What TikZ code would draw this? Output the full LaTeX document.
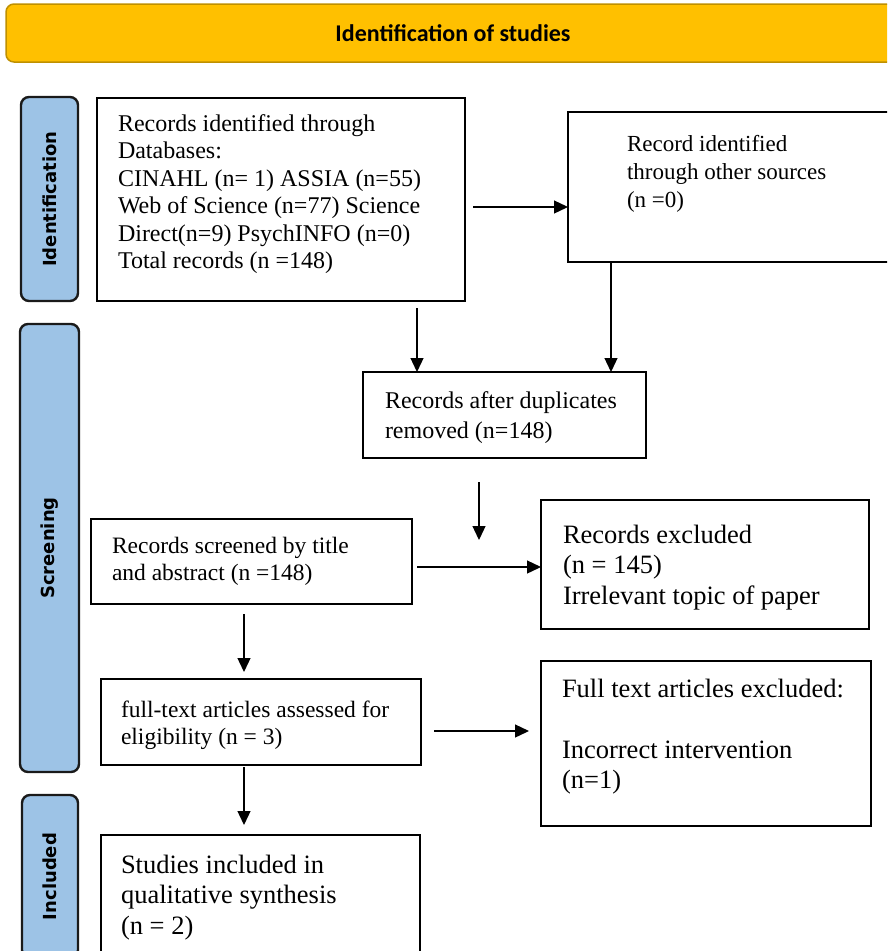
\documentclass[tikz,border=0pt]{standalone}
\usepackage{fontspec}
\setmainfont{Liberation Serif}
\newfontfamily\carlito{Carlito}
\newfontfamily\dejavu{DejaVu Sans}
\usetikzlibrary{arrows.meta,calc}
\definecolor{bannerfill}{HTML}{FFC000}
\definecolor{bannerline}{HTML}{BF9000}
\definecolor{sidefill}{HTML}{9DC3E6}
\definecolor{sideline}{HTML}{1A1A1A}
\begin{document}
\begin{tikzpicture}[x=1pt,y=-1pt,
  box/.style={draw=black,line width=2pt,fill=white,inner sep=0pt,outer sep=0pt},
  txt/.style={anchor=north west,inner sep=0pt,outer sep=0pt,align=left},
  side/.style={draw=sideline,line width=2.4pt,fill=sidefill,rounded corners=8pt,inner sep=0pt,outer sep=0pt},
  sidetxt/.style={rotate=90,inner sep=0pt,font=\dejavu\bfseries\fontsize{18}{21}\selectfont},
  arr/.style={line width=1.3pt,-{Triangle[length=14pt,width=13pt]}},
  fA/.style={font=\fontsize{24}{27.5}\selectfont},
  fB/.style={font=\fontsize{23}{28}\selectfont},
  fC/.style={font=\fontsize{24}{30}\selectfont},
  fD/.style={font=\fontsize{23.5}{27}\selectfont},
  fE/.style={font=\fontsize{26.5}{30.5}\selectfont}]
\clip (0,0) rectangle (887,951);
\fill[white] (0,0) rectangle (887,951);
% banner
\node[draw=bannerline,line width=1.5pt,fill=bannerfill,rounded corners=8pt,
  minimum width=894pt,minimum height=58pt,inner sep=0pt,
  font=\carlito\bfseries\fontsize{24}{28}\selectfont] (T) at (453,33) {Identification of studies};
% side bars
\node[side,minimum width=57pt,minimum height=204pt] (S1) at (49.5,199) {};
\node[sidetxt] (S1t) at (S1.center) {Identification};
\node[side,minimum width=59pt,minimum height=448pt] (S2) at (49.5,548) {};
\node[sidetxt] (S2t) at (S2.center) {Screening};
\node[side,minimum width=56pt,minimum height=163pt] (S3) at (50,876.5) {};
\node[sidetxt] (S3t) at (S3.center) {Included};
% boxes
\node[box,line width=2.4pt,minimum width=368pt,minimum height=203pt] (B1) at (281,199.5) {};
\node[box,minimum width=327pt,minimum height=150pt] (B2) at (731.5,187) {};
\node[box,minimum width=283pt,minimum height=86pt] (B3) at (504.5,415) {};
\node[box,minimum width=321pt,minimum height=85pt] (B4) at (251.5,561.5) {};
\node[box,minimum width=328pt,minimum height=129pt] (B5) at (705,564.5) {};
\node[box,minimum width=320pt,minimum height=86pt] (B6) at (261,722) {};
\node[box,minimum width=330pt,minimum height=165pt] (B7) at (706,743.5) {};
\node[box,minimum width=319pt,minimum height=130pt] (B8) at (260.5,900) {};
% texts
\node[txt,fA] (B1t) at ($(B1.north west)+(21,16.5)$) {Records identified through\\Databases:\\CINAHL (n= 1) ASSIA (n=55)\\Web of Science (n=77) Science\\Direct(n=9) PsychINFO (n=0)\\Total records (n =148)};
\node[txt,fB] (B2t) at ($(B2.north west)+(59,23)$) {Record identified\\through other sources\\(n =0)};
\node[txt,fC] (B3t) at ($(B3.north west)+(22,19.5)$) {Records after duplicates\\removed (n=148)};
\node[txt,fD] (B4t) at ($(B4.north west)+(21,18)$) {Records screened by title\\and abstract (n =148)};
\node[txt,fE] (B5t) at ($(B5.north west)+(22,25)$) {Records excluded\\(n = 145)\\Irrelevant topic of paper};
\node[txt,fD] (B6t) at ($(B6.north west)+(20,22)$) {full-text articles assessed for\\eligibility (n = 3)};
\node[txt,fE] (B7t) at ($(B7.north west)+(21,18)$) {Full text articles excluded:\\[30.5pt]Incorrect intervention\\(n=1)};
\node[txt,fE] (B8t) at ($(B8.north west)+(20,20)$) {Studies included in\\qualitative synthesis\\(n = 2)};
% connectors
\coordinate (a1) at ($(B1.east)+(8,7.5)$);
\draw[arr] (a1) -- (a1 -| B2.west);
\coordinate (a2) at ($(B3.north west)+(54,0)$);
\draw[arr] ($(a2 |- B1.south)+(0,7)$) -- (a2);
\coordinate (a3) at ($(B2.south west)+(43,0)$);
\draw[arr] (a3) -- (a3 |- B3.north);
\draw[arr] ($(B3.south west)+(116,24)$) -- ($(B3.south west)+(116,82)$);
\coordinate (a5) at ($(B4.east)+(5,5.5)$);
\draw[arr] (a5) -- (a5 -| B5.west);
\coordinate (a6) at ($(B4.south west)+(153,10)$);
\draw[arr] (a6) -- ($(a6 |- B6.north)+(0,-7)$);
\coordinate (a7) at ($(B6.east)+(13,9)$);
\draw[arr] (a7) -- ($(a7 -| B7.west)+(-12,0)$);
\coordinate (a8) at ($(B6.south west)+(143,2)$);
\draw[arr] (a8) -- ($(a8 |- B8.north)+(0,-10)$);
\end{tikzpicture}
\end{document}
